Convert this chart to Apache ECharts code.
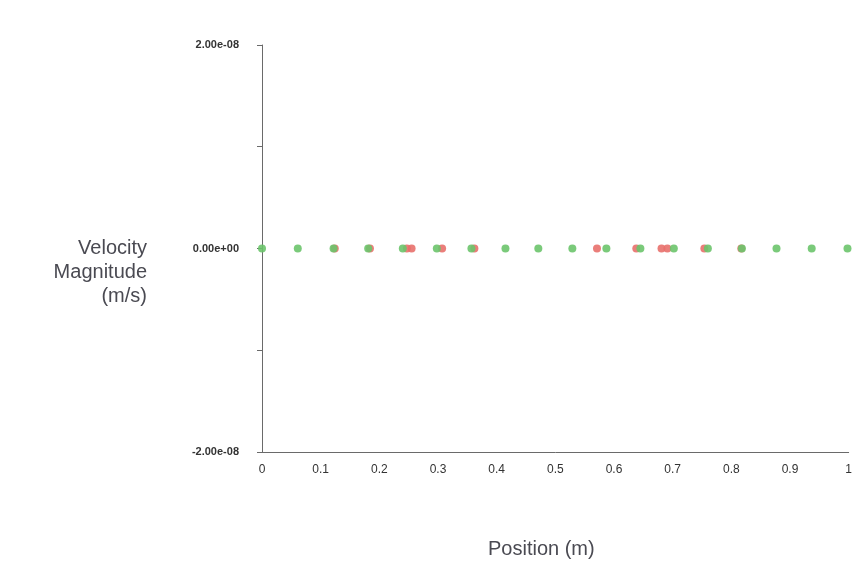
<!DOCTYPE html>
<html>
<head>
<meta charset="utf-8">
<script src="https://cdn.jsdelivr.net/npm/echarts@6/dist/echarts.min.js"></script>
<style>
  html, body { margin: 0; padding: 0; background: #fff; }
  #chart { width: 855px; height: 567px; }
</style>
</head>
<body>
<div id="chart"></div>
<script>
// Sample positions along the line (m); velocity magnitude is zero at every point
const greenPositions = [0, 0.061, 0.122, 0.181, 0.240, 0.298, 0.357, 0.415, 0.471, 0.529, 0.587, 0.645, 0.702, 0.760, 0.818, 0.877, 0.937, 0.998];
const greenVelocity  = [0, 0, 0, 0, 0, 0, 0, 0, 0, 0, 0, 0, 0, 0, 0, 0, 0, 0];
const redPositions   = [0.124, 0.184, 0.247, 0.255, 0.307, 0.362, 0.571, 0.638, 0.681, 0.691, 0.754, 0.817];
const redVelocity    = [0, 0, 0, 0, 0, 0, 0, 0, 0, 0, 0, 0];

const xTicks = { min: 0, max: 1, interval: 0.1 };
const yTicks = { min: -2e-8, max: 2e-8, interval: 1e-8 };

function sci(v) {
  if (Math.abs(v) < 1e-20) return '0.00e+00';
  const s = v.toExponential(2);
  const [m, e] = s.split('e');
  const sign = e[0] === '-' ? '-' : '+';
  const digits = e.replace(/[+-]/, '').padStart(2, '0');
  return m + 'e' + sign + digits;
}

function pairs(xs, ys) { return xs.map((x, i) => [x, ys[i]]); }

const chart = echarts.init(document.getElementById('chart'));
chart.setOption({
  backgroundColor: '#fff',
  animation: false,
  grid: { left: 262, right: 3, top: 45, bottom: 115, containLabel: false },
  xAxis: {
    type: 'value',
    min: xTicks.min, max: xTicks.max, interval: xTicks.interval,
    name: 'Position (m)',
    nameLocation: 'middle',
    nameGap: 87,
    nameTextStyle: {
      fontFamily: 'Liberation Sans, Arial, sans-serif', fontSize: 20, color: '#4a4a52',
      padding: [0, 28, 0, 0]
    },
    axisLine: { show: true, onZero: false, lineStyle: { color: '#6a6a6a', width: 1 } },
    axisTick: { show: false },
    axisLabel: {
      fontFamily: 'Liberation Sans, Arial, sans-serif', fontSize: 12, color: '#333', margin: 12,
      formatter: v => String(Math.round(v * 10) / 10)
    },
    splitLine: { show: false }
  },
  yAxis: {
    type: 'value',
    min: yTicks.min, max: yTicks.max, interval: yTicks.interval,
    // two leading blank lines keep "Velocity" level with the zero tick
    name: ' \n \nVelocity\nMagnitude\n(m/s)',
    nameLocation: 'middle',
    nameRotate: 0,
    nameGap: 115,
    nameTextStyle: {
      fontFamily: 'Liberation Sans, Arial, sans-serif', fontSize: 20, color: '#4a4a52',
      align: 'right', lineHeight: 24
    },
    axisLine: { show: true, lineStyle: { color: '#6a6a6a', width: 1 } },
    axisTick: { show: true, length: 5, lineStyle: { color: '#6a6a6a' } },
    axisLabel: {
      fontFamily: 'Liberation Sans, Arial, sans-serif', fontSize: 11, fontWeight: 'bold', color: '#333', margin: 23,
      formatter: v => (Math.abs(v) > 5e-9 && Math.abs(v) < 1.5e-8) ? '' : sci(v)
    },
    splitLine: { show: false }
  },
  series: [
    {
      type: 'scatter', name: 'red',
      data: pairs(redPositions, redVelocity),
      symbolSize: 8, z: 2,
      itemStyle: { color: '#e8706c', opacity: 0.9 }
    },
    {
      type: 'scatter', name: 'green',
      data: pairs(greenPositions, greenVelocity),
      symbolSize: 8, z: 3,
      itemStyle: { color: '#6cc46c', opacity: 0.9 }
    }
  ]
});
</script>
</body>
</html>
